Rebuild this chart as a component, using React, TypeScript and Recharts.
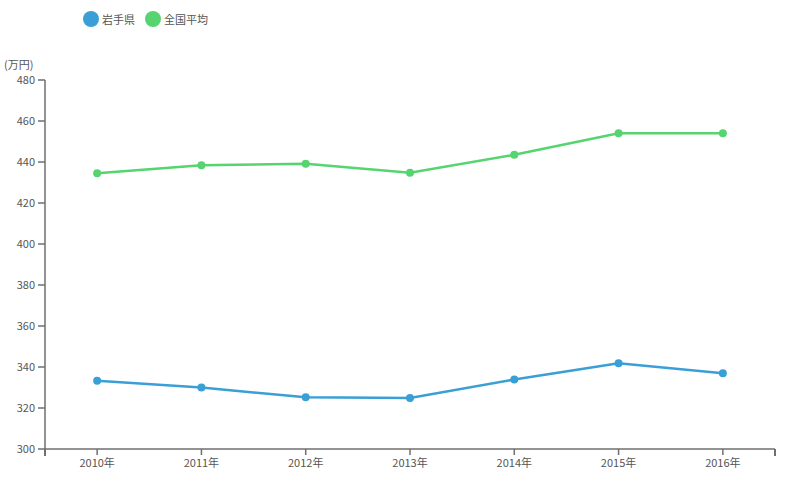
import { LineChart, Line, XAxis, YAxis } from 'recharts';

const years = ['2010年', '2011年', '2012年', '2013年', '2014年', '2015年', '2016年'];
const iwate = [333.3, 330.0, 325.2, 324.9, 333.9, 341.8, 336.9];
const national = [434.5, 438.4, 439.1, 434.8, 443.5, 454.0, 454.0];
const yTicks = [300, 320, 340, 360, 380, 400, 420, 440, 460, 480];

const BLUE = '#3a9fd6';
const GREEN = '#55d46f';
const AXIS = '#6f6f6f';
const FONT = '"Noto Sans CJK JP", "Open Sans", sans-serif';

const data = years.map((year, i) => ({ year, iwate: iwate[i], national: national[i] }));

const M = { top: 80, right: 15, bottom: 15, left: 0 };
const W = 790;
const H = 494;
const Y_W = 45;
const X_H = 30;
// half a category band, so points sit in band centres
const HALF_BAND = (W - M.left - M.right - Y_W) / years.length / 2;

const legendItems = [
  { name: '岩手県', color: BLUE },
  { name: '全国平均', color: GREEN },
];

const UnitLabel = ({ viewBox }: any) => (
  <text x={viewBox.x + 4} y={viewBox.y - 11} fontSize={11} fill="#555" fontFamily={FONT}>
    (万円)
  </text>
);

export default function App() {
  return (
    <div style={{ position: 'absolute', left: 0, top: 0, width: W, height: H, background: '#fff' }}>
      {/* legend */}
      <div style={{ position: 'absolute', left: 83, top: 11, display: 'flex', alignItems: 'center', gap: 10, fontFamily: FONT, fontSize: 11, color: '#555' }}>
        {legendItems.map(s => (
          <div key={s.name} style={{ display: 'flex', alignItems: 'center', gap: 3 }}>
            <span style={{ width: 16, height: 16, borderRadius: '50%', background: s.color, display: 'inline-block' }} />
            <span>{s.name}</span>
          </div>
        ))}
      </div>
      <LineChart width={W} height={H} data={data} margin={M}>
        <XAxis
          dataKey="year"
          height={X_H}
          padding={{ left: HALF_BAND, right: HALF_BAND }}
          stroke={AXIS}
          strokeWidth={1.5}
          tickSize={6}
          tickMargin={4}
          tick={{ fontSize: 11, fill: '#555', fontFamily: FONT }}
        />
        <YAxis
          width={Y_W}
          domain={[300, 480]}
          ticks={yTicks}
          stroke={AXIS}
          strokeWidth={1.5}
          tickSize={7}
          tickMargin={3}
          tick={{ fontSize: 11, fill: '#555', fontFamily: FONT }}
          label={<UnitLabel />}
        />
        <Line
          type="linear"
          dataKey="iwate"
          name="岩手県"
          stroke={BLUE}
          strokeWidth={2.5}
          dot={{ r: 4, fill: BLUE, stroke: BLUE, strokeWidth: 0 }}
          isAnimationActive={false}
        />
        <Line
          type="linear"
          dataKey="national"
          name="全国平均"
          stroke={GREEN}
          strokeWidth={2.5}
          dot={{ r: 4, fill: GREEN, stroke: GREEN, strokeWidth: 0 }}
          isAnimationActive={false}
        />
      </LineChart>
      {/* outer ticks at the ends of the x axis */}
      <div style={{ position: 'absolute', left: M.left + Y_W - 0.75, top: H - M.bottom - X_H, width: 1.5, height: 7, background: AXIS }} />
      <div style={{ position: 'absolute', left: W - M.right - 0.75, top: H - M.bottom - X_H, width: 1.5, height: 7, background: AXIS }} />
    </div>
  );
}
